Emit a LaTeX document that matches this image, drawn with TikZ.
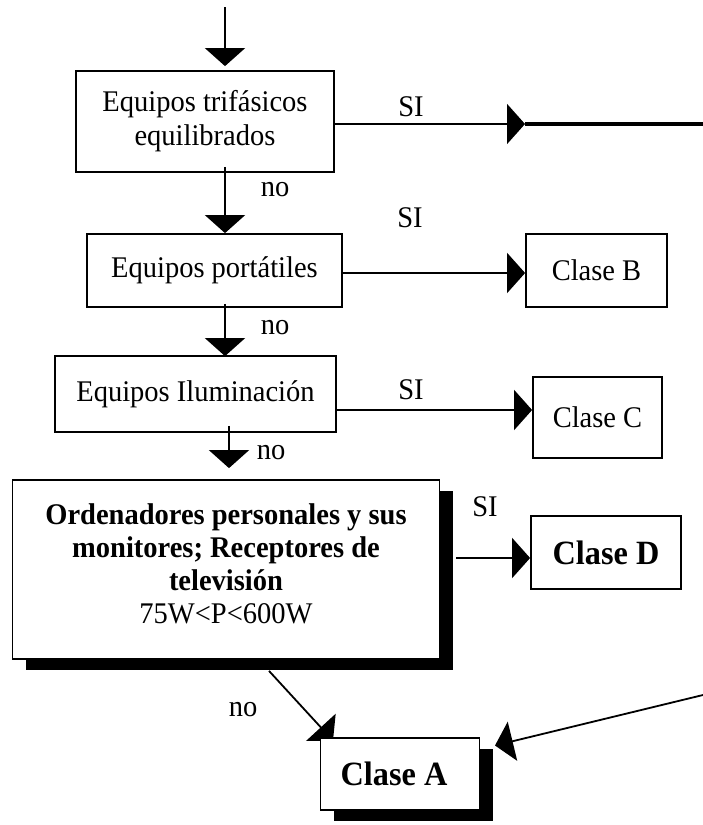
\documentclass[tikz,border=0pt]{standalone}
\usepackage{fontspec}
\setmainfont{Liberation Serif}[FakeStretch=0.95]
\usetikzlibrary{arrows.meta,shadows,backgrounds,calc}
\newcommand\fntReg{\fontsize{30}{34}\selectfont}
\newcommand\fntBig{\fontsize{30}{33}\selectfont}
\newcommand\fntCls{\fontsize{34}{40}\selectfont\bfseries}
\begin{document}
\begin{tikzpicture}[x=1pt,y=-1pt,
  box/.style={draw, line width=1.8pt, fill=white, inner sep=0pt, align=center, font=\fntReg},
  conn/.style={line width=1.8pt, -{Triangle[length=18pt,width=40pt]}},
  thickline/.style={line width=3.2pt},
  lbl/.style={inner sep=0pt, font=\fntReg},
  shadowed/.style={drop shadow={shadow xshift=13pt, shadow yshift=-11pt, fill=black, opacity=1}}]
\useasboundingbox (0,0) rectangle (703,825);

% boxes
\node[box, minimum width=258pt, minimum height=101pt] (b1) at (205,121.5) {Equipos trifásicos\\equilibrados};
\node[box, minimum width=255pt, minimum height=73pt] (b2) at (214.5,270.5) {Equipos portátiles};
\node[box, minimum width=141pt, minimum height=73pt] (cB) at (596.5,270.5) {Clase B};
\node[box, minimum width=281pt, minimum height=76pt] (b3) at (195.5,394) {Equipos Iluminación};
\node[box, minimum width=129pt, minimum height=81pt] (cC) at (597.5,417.5) {Clase C};
\node[box, shadowed, minimum width=427pt, minimum height=179pt, font=\fntBig] (b4) at (226,569.5)
  {\textbf{Ordenadores personales y sus}\\\textbf{monitores; Receptores de}\\\textbf{televisión}\\75W<P<600W\rule[-12pt]{0pt}{12pt}};
\node[box, minimum width=150pt, minimum height=73pt, font=\fntCls] (cD) at (606,552.5) {Clase D};
\node[box, shadowed, minimum width=159pt, minimum height=72pt, font=\fntCls] (cA) at (400,774) {Clase A\hspace*{12pt}};

% free ends
\coordinate (top) at (225,7);
\coordinate (vx) at (225,0);
\coordinate (vx3) at (229,0);
\coordinate (mid) at (525,124);
\coordinate (rE) at (703,124);
\coordinate (rB) at (703,695);

% labels
\node[lbl] (si1) at (411,107) {SI};
\node[lbl] (no1) at (275,190) {no};
\node[lbl] (si2) at (410,218) {SI};
\node[lbl] (no2) at (275,328) {no};
\node[lbl] (si3) at (411,390) {SI};
\node[lbl] (no3) at (271,453) {no};
\node[lbl] (si4) at (485,507) {SI};
\node[lbl] (no4) at (243,710) {no};

% connectors
\draw[conn] (top) -- ([yshift=4pt]vx |- b1.north);
\draw[conn] ([yshift=6pt]vx |- b1.south) -- (vx |- b2.north);
\draw[conn] ([yshift=4pt]vx |- b2.south) -- ([yshift=-1pt]vx |- b3.north);
\draw[conn] ([yshift=7pt]vx3 |- b3.south) -- ([yshift=11pt]vx3 |- b4.north);
\draw[conn] (b1.east |- mid) -- (mid);
\draw[thickline] (mid) -- (rE);
\draw[conn] ([yshift=-2.5pt]b2.east) -- ([yshift=-2.5pt]cB.west);
\draw[conn] ([yshift=-16pt]b3.east) -- (cC.west |- 0,410);
\draw[conn] ([xshift=16pt]b4.east |- 0,558) -- (cD.west |- 0,558);
\begin{pgfonlayer}{background}
\draw[conn] ([shift={(43,11)}]b4.south) -- ([shift={(-67,-33.4)}]cA.center);
\draw[conn] (rB) -- ([shift={(95,-28.5)}]cA.center);
\end{pgfonlayer}
\end{tikzpicture}
\end{document}
